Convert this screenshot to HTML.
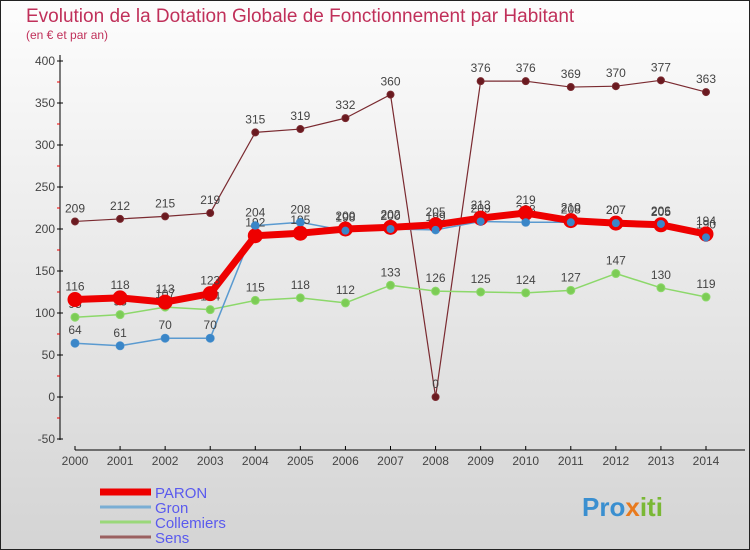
<!DOCTYPE html>
<html><head><meta charset="utf-8"><style>
body{margin:0;}
svg{display:block;font-family:"Liberation Sans",sans-serif;}
</style></head><body>
<svg id="c" width="750" height="550" viewBox="0 0 750 550">
<defs><linearGradient id="bg" x1="0" y1="0" x2="0" y2="1"><stop offset="0" stop-color="#fdfdfd"/><stop offset="1" stop-color="#d4d4d4"/></linearGradient></defs>
<rect x="0.5" y="0.5" width="749" height="549" fill="url(#bg)" stroke="#222"/>
<text x="26" y="22" font-size="19" fill="#c0305a">Evolution de la Dotation Globale de Fonctionnement par Habitant</text>
<text x="26" y="39" font-size="12" fill="#c0305a">(en € et par an)</text>
<g id="axes"></g><g id="series"></g><g id="legend"></g>
<text x="582" y="516" font-size="26" font-weight="bold" fill="#3a8fd0">Pro<tspan fill="#e87a1e">x</tspan><tspan fill="#7ab835">iti</tspan></text>
</svg>
<script>
const years=[2000,2001,2002,2003,2004,2005,2006,2007,2008,2009,2010,2011,2012,2013,2014];
const paron=[116,118,113,123,192,195,200,202,205,213,219,210,207,205,194];
const gron=[64,61,70,70,204,208,198,200,199,209,208,208,207,206,190];
const collemiers=[95,98,107,104,115,118,112,133,126,125,124,127,147,130,119];
const sens=[209,212,215,219,315,319,332,360,0,376,376,369,370,377,363];
const yTicks=[-50,0,50,100,150,200,250,300,350,400];
const NS='http://www.w3.org/2000/svg';
const xS=i=>75+i*(706-75)/14;
const yS=v=>397-v*0.84;
function mk(t,a,p){const e=document.createElementNS(NS,t);for(const k in a)e.setAttribute(k,a[k]);p.appendChild(e);return e;}
const ax=document.getElementById('axes');
const yl=mk('line',{x1:60,y1:55,x2:60,y2:440,stroke:'#000'},ax);


yTicks.forEach(v=>{
 mk('line',{x1:57,y1:yS(v),x2:63,y2:yS(v),stroke:'#000'},ax);
 if(v<400){mk('line',{x1:57,y1:yS(v+25),x2:60,y2:yS(v+25),stroke:'#e00'},ax);}
 const t=mk('text',{x:55,y:yS(v)+4,'font-size':12,fill:'#444','text-anchor':'end'},ax);t.textContent=v;
 
 
});
const xl=mk('line',{x1:75,y1:450,x2:745,y2:450,stroke:'#000'},ax);


years.forEach((y,i)=>{
 mk('line',{x1:xS(i),y1:446,x2:xS(i),y2:450,stroke:'#000'},ax);
 const t=mk('text',{x:xS(i),y:465,'font-size':12,fill:'#444','text-anchor':'middle'},ax);t.textContent=y;
 
 
});
const sg=document.getElementById('series');
function series(d,color,w,r,dot,name,labels){
 const g=mk('g',{},sg);
 
 
 mk('polyline',{points:d.map((v,i)=>xS(i)+','+yS(v)).join(' '),fill:'none',stroke:color,'stroke-width':w,'stroke-linejoin':'round'},g);
 d.forEach((v,i)=>{
  const c=mk('circle',{cx:xS(i),cy:yS(v),r:r,fill:dot,stroke:color,'stroke-width':1},g);
  
  
  if(labels){const t=mk('text',{x:xS(i),y:yS(v)-9,'font-size':12,fill:'#444','text-anchor':'middle'},g);t.textContent=v;}
 });
}
series(sens,'#7a2a30',1.2,3.5,'#6a1a20','sens',true);
series(collemiers,'#8cd86a',1.5,4,'#7ccc55','collemiers',true);
series(gron,'#5a9ad0',1.5,4,'#3a86c8','gron',true);
series(paron,'#ee0000',7,7,'#ee0000','paron',true);
gron.forEach((v,i)=>mk('circle',{cx:xS(i),cy:yS(v),r:4,fill:'#3a86c8'},sg));
const lg=document.getElementById('legend');
const items=[['PARON','#ee0000',7],['Gron','#7aaed4',3],['Collemiers','#9ad87a',3],['Sens','#9a6060',3]];
items.forEach((it,k)=>{
 const y=492+k*15;
 const l=mk('line',{x1:100,y1:y,x2:151,y2:y,stroke:it[1],'stroke-width':it[2]},lg);
 
 
 const t=mk('text',{x:155,y:y+6,'font-size':15,fill:'#5a5aee'},lg);t.textContent=it[0];
 
 
});
</script>
</body></html>
